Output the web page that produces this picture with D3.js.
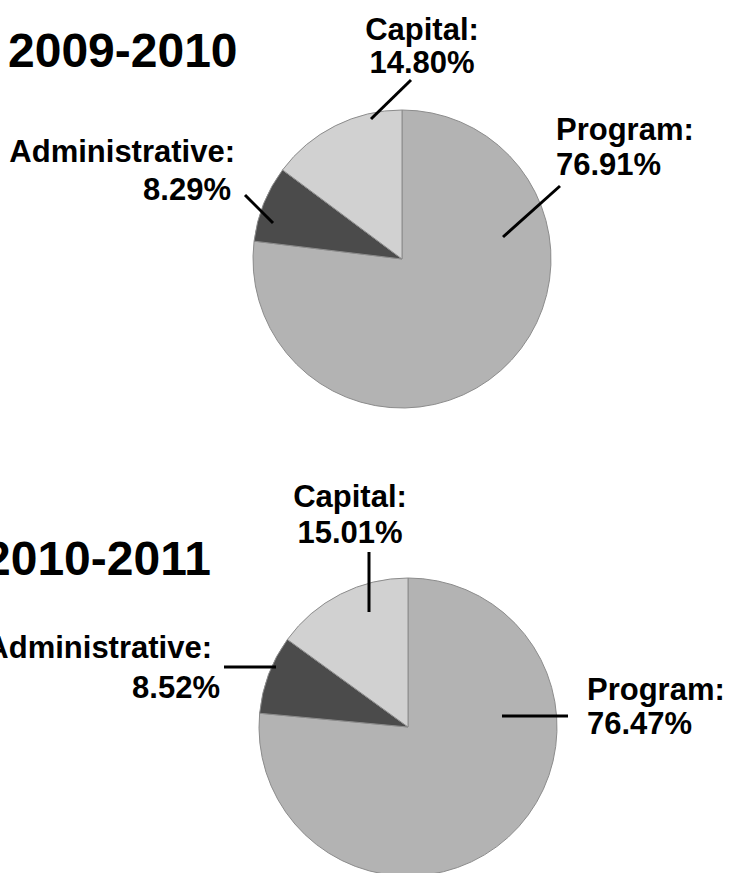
<!DOCTYPE html>
<html>
<head>
<meta charset="utf-8">
<script src="https://cdn.jsdelivr.net/npm/d3@7"></script>
<style>
  html, body { margin: 0; padding: 0; background: #fff; overflow: hidden; }
  svg { display: block; }
  text { font-family: "Liberation Sans", Arial, sans-serif; font-weight: bold; fill: #000; }
</style>
</head>
<body>
<div id="chart"></div>
<script>
// dados
const years = ["2009-2010", "2010-2011"];
const categories = ["Program", "Administrative", "Capital"];
const shares2009 = [76.91, 8.29, 14.80];
const shares2010 = [76.47, 8.52, 15.01];
const sliceColors = ["#b3b3b3", "#4b4b4b", "#d1d1d1"];

// layout de cada pizza (posicoes de rotulos e linhas-guia)
const layouts = [
  {
    cx: 402, cy: 259, r: 149,
    title: { x: 8, y: 67 },
    labels: [
      { x: 556, y: 140, gap: 35, anchor: "start", line: [503, 237, 560, 186] },
      { x: 235, y: 162, gap: 38, x2: 231, anchor: "end", line: [273, 223, 245, 195] },
      { x: 422, y: 40, gap: 33, anchor: "middle", line: [371, 119, 411, 80] }
    ]
  },
  {
    cx: 408, cy: 727, r: 149,
    title: { x: -16, y: 575 },
    labels: [
      { x: 587, y: 700, gap: 34, anchor: "start", line: [502, 716, 568, 716] },
      { x: 212, y: 658, gap: 40, x2: 220, anchor: "end", line: [224, 667, 276, 667] },
      { x: 350, y: 507, gap: 36, anchor: "middle", line: [369, 612, 369, 552] }
    ]
  }
];

const width = 729, height = 873;
const svg = d3.select("#chart").append("svg")
  .attr("width", width).attr("height", height);

const pie = d3.pie().sort(null).value((d) => d);

[shares2009, shares2010].forEach((shares, i) => {
  const lay = layouts[i];
  const arc = d3.arc().innerRadius(0).outerRadius(lay.r);
  const g = svg.append("g");

  // fatias
  g.append("g").attr("transform", `translate(${lay.cx},${lay.cy})`)
    .selectAll("path").data(pie(shares)).enter().append("path")
    .attr("d", arc)
    .attr("fill", (d, j) => sliceColors[j])
    .attr("stroke", "#8c8c8c")
    .attr("stroke-width", 1);

  // titulo
  g.append("text")
    .attr("x", lay.title.x).attr("y", lay.title.y)
    .attr("font-size", 48)
    .text(years[i]);

  // linhas-guia + rotulos
  lay.labels.forEach((lb, j) => {
    g.append("line")
      .attr("x1", lb.line[0]).attr("y1", lb.line[1])
      .attr("x2", lb.line[2]).attr("y2", lb.line[3])
      .attr("stroke", "#000").attr("stroke-width", 3);
    const t = g.append("text")
      .attr("text-anchor", lb.anchor)
      .attr("font-size", 31);
    t.append("tspan").attr("x", lb.x).attr("y", lb.y).text(categories[j] + ":");
    t.append("tspan").attr("x", lb.x2 ?? lb.x).attr("y", lb.y + lb.gap).text(shares[j].toFixed(2) + "%");
  });
});
</script>
</body>
</html>
